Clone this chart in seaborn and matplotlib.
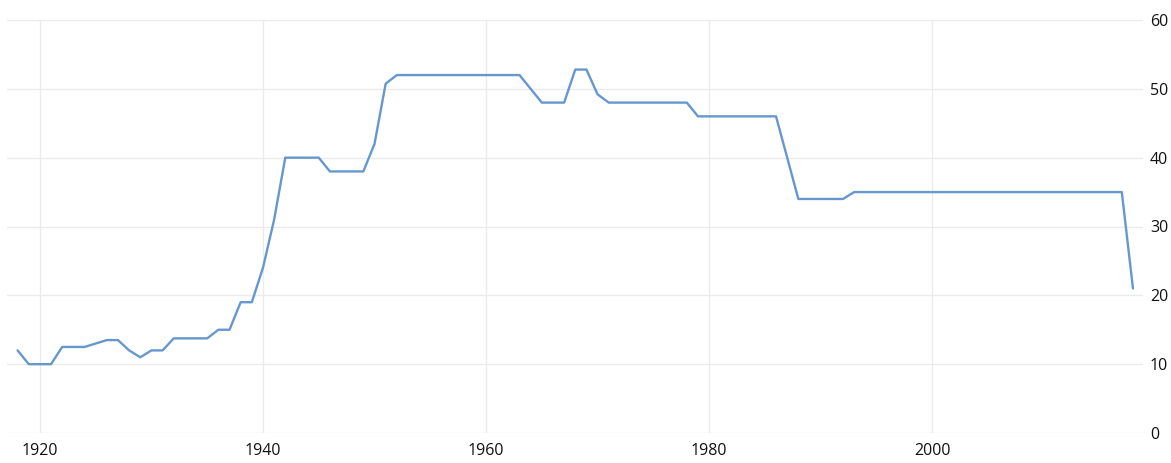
import matplotlib
matplotlib.use("Agg")
import matplotlib.pyplot as plt
import seaborn as sns
import pandas as pd

years = list(range(1918, 2019))
rates = [
    12, 10, 10, 10, 12.5, 12.5, 12.5, 13, 13.5, 13.5,      # 1918-1927
    12, 11, 12, 12, 13.75, 13.75, 13.75, 13.75, 15, 15,    # 1928-1937
    19, 19, 24, 31, 40, 40, 40, 40, 38, 38,                # 1938-1947
    38, 38, 42, 50.75, 52, 52, 52, 52, 52, 52,             # 1948-1957
    52, 52, 52, 52, 52, 52, 50, 48, 48, 48,                # 1958-1967
    52.8, 52.8, 49.2, 48, 48, 48, 48, 48, 48, 48,          # 1968-1977
    48, 46, 46, 46, 46, 46, 46, 46, 46, 40,                # 1978-1987
    34, 34, 34, 34, 34, 35, 35, 35, 35, 35,                # 1988-1997
    35, 35, 35, 35, 35, 35, 35, 35, 35, 35,                # 1998-2007
    35, 35, 35, 35, 35, 35, 35, 35, 35, 35,                # 2008-2017
    21,                                                    # 2018
]
x_ticks = [1920, 1940, 1960, 1980, 2000]
y_ticks = [0, 10, 20, 30, 40, 50, 60]

df = pd.DataFrame({"year": years, "rate": rates})

sns.set_style("white")
plt.rcParams["font.family"] = ["Open Sans", "DejaVu Sans"]

fig = plt.figure(figsize=(11.71, 4.63), dpi=100)
ax = fig.add_axes([7 / 1171, 30 / 463, 1136 / 1171, 413 / 463])

sns.lineplot(data=df, x="year", y="rate", ax=ax, color="#6697cf", linewidth=1.7)

ax.set_xlim(1917.05, 2018.9)
ax.set_ylim(0, 60)
ax.set_xticks(x_ticks)
ax.set_yticks(y_ticks)
ax.yaxis.tick_right()
ax.grid(True, color="#ebebeb", linewidth=1.0)
ax.set_axisbelow(True)
for s in ax.spines.values():
    s.set_visible(False)
ax.tick_params(axis="both", length=0, labelsize=11.5, colors="#111111")
ax.tick_params(axis="x", pad=7)
ax.tick_params(axis="y", pad=5)
ax.set_xlabel("")
ax.set_ylabel("")

fig.savefig("out.png", dpi=100, facecolor="white")
